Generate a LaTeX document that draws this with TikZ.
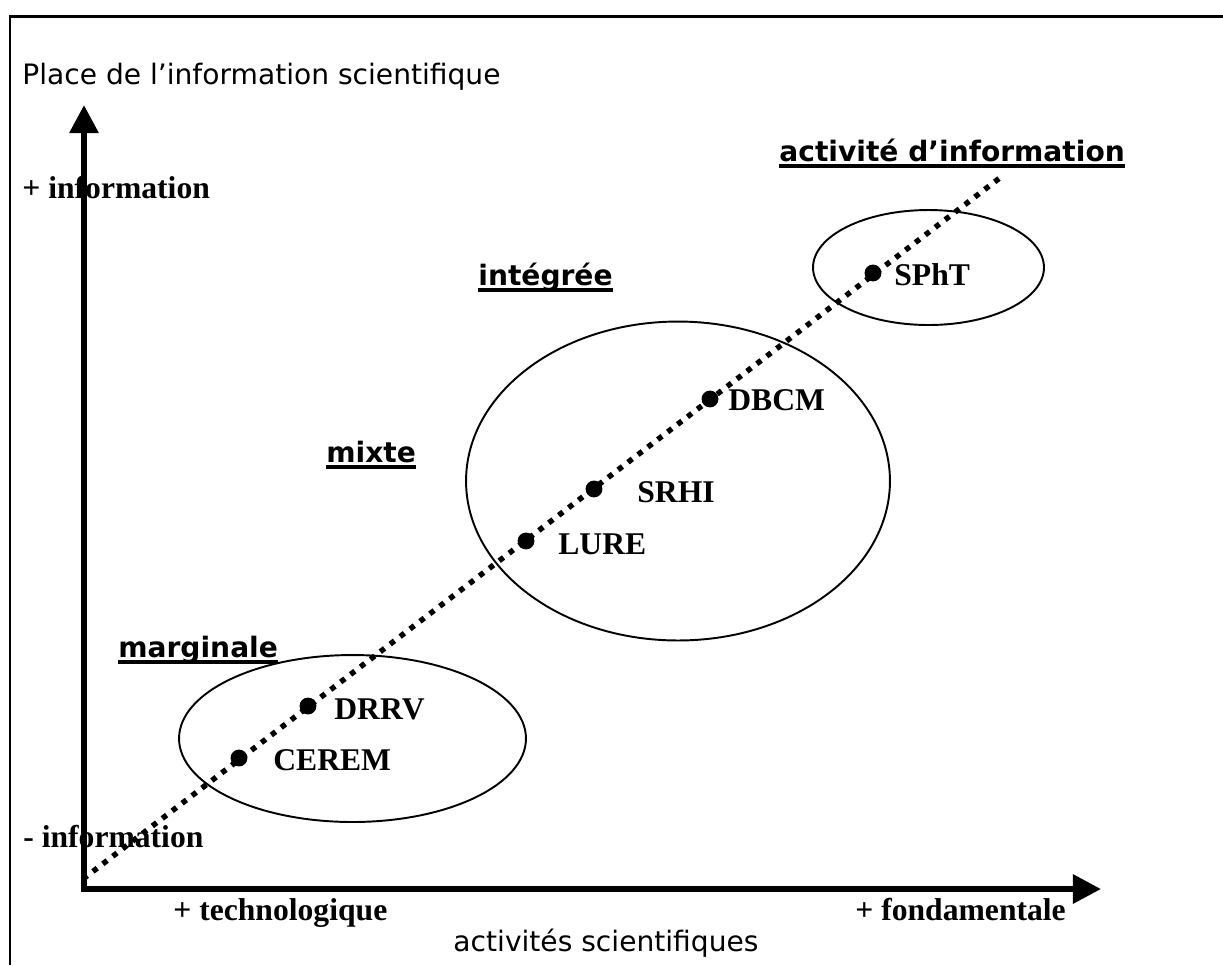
\documentclass[tikz,border=0pt]{standalone}
\usepackage{fontspec}
\setmainfont{Liberation Serif}
\setsansfont{DejaVu Sans}
\usetikzlibrary{arrows.meta, positioning, shapes.geometric}
\newcommand{\souligne}[1]{\setbox0\hbox{#1}\rlap{\vrule height -1.8pt depth 3.9pt width \wd0}\box0}
\tikzset{
  axe/.style      ={line width=3.4pt, {Triangle[length=16pt,width=16pt]}-{Triangle[length=16pt,width=16pt]}},
  cadre/.style    ={line width=1.7pt},
  grp/.style      ={ellipse, draw, line width=1.1pt, inner sep=0pt},
  pt/.style       ={circle, fill, inner sep=0pt, minimum size=9.6pt},
  pointille/.style={line width=3.1pt, dash pattern=on 3.1pt off 4pt},
  org/.style      ={anchor=base west, inner sep=0pt, font=\bfseries\fontsize{18}{21}\selectfont},
  cat/.style      ={anchor=base west, inner sep=0pt, font=\sffamily\bfseries\fontsize{16}{19}\selectfont},
  ttl/.style      ={anchor=base west, inner sep=0pt, font=\sffamily\fontsize{16}{19}\selectfont},
}
\begin{document}
\begin{tikzpicture}[x=0.02cm, y=-0.02cm]
  \useasboundingbox (0,0) rectangle (1223,965);
  \draw[cadre] (1223,16) -- (10,16) -- (10,965);

  % axes
  \coordinate (o) at (84,889);
  \coordinate (ytip) at (84,105);
  \coordinate (xtip) at (1101,889);
  \draw[axe] (ytip) -- (o) -- (xtip);
  \node[ttl] (ty) at (22,84) {Place de l’information scientifique};
  \node[ttl, anchor=base] (tx) at (606,951) {activités scientifiques};
  \node[org] (yhaut) at (22,198) {+ information};
  \node[org] (ybas) at (23,847) {- information};
  \node[org] (xgauche) at (173,920) {+ technologique};
  \node[org] (xdroite) at (855,920) {+ fondamentale};

  % groupes
  \node[grp, minimum width=4.62cm, minimum height=2.3cm] (eHaut) at (928.5,267.5) {};
  \node[grp, minimum width=8.48cm, minimum height=6.38cm] (eMil) at (678,481) {};
  \node[grp, minimum width=6.94cm, minimum height=3.34cm] (eBas) at (352.5,738.5) {};

  \node[cat] (cAct) at (779,161) {\souligne{activité d’information}};
  \node[cat] (cInt) at (478,285) {\souligne{intégrée}};
  \node[cat] (cMix) at (326,462) {\souligne{mixte}};
  \node[cat] (cMar) at (118,657) {\souligne{marginale}};

  % droite pointillee
  \coordinate (d0) at (83,879);
  \coordinate (d1) at (1001,177);
  \draw[pointille] (d0) -- (d1);

  % services
  \node[pt] (sphT) at (873,273) {};
  \node[pt] (dbcm) at (710,399) {};
  \node[pt] (srhi) at (594,489) {};
  \node[pt] (lure) at (526,541) {};
  \node[pt] (drrv) at (308,706) {};
  \node[pt] (cerem) at (239,758) {};
  \node[org] (lsphT) at (894,285) {SPhT};
  \node[org] (ldbcm) at (728,410) {DBCM};
  \node[org] (lsrhi) at (637,502) {SRHI};
  \node[org] (llure) at (558,554) {LURE};
  \node[org] (ldrrv) at (334,719) {DRRV};
  \node[org] (lcerem) at (273,770) {CEREM};
\end{tikzpicture}
\end{document}
